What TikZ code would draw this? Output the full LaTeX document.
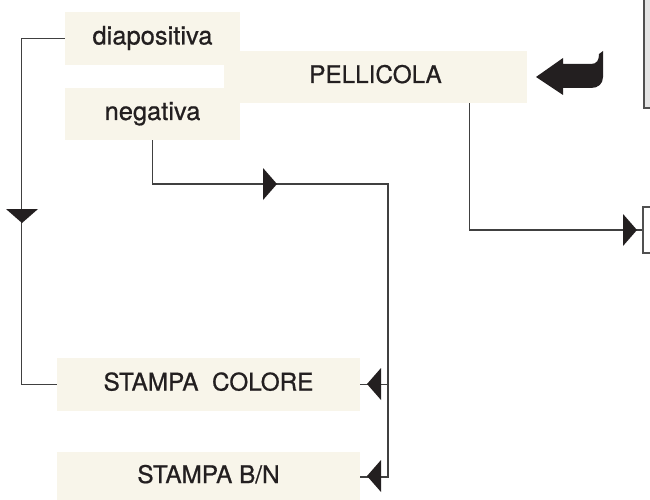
\documentclass[tikz,border=0pt]{standalone}
\usepackage{fontspec}
\setmainfont{TeX Gyre Heros}
\newfontfamily\labelfont[FakeBold=0.7]{TeX Gyre Heros}
\definecolor{beige}{HTML}{F8F5EA}
\definecolor{ink}{HTML}{231F20}
\definecolor{wire}{HTML}{404040}
\definecolor{panel}{HTML}{E4E4E4}
\definecolor{frame}{HTML}{505050}
\begin{document}
\begin{tikzpicture}[x=1pt,y=-1pt,
  box/.style={rectangle, fill=beige, inner sep=0pt, text=ink,
    font=\labelfont\fontsize{24.3}{28}\selectfont, text height=17pt, text depth=5pt},
  wirestyle/.style={draw=wire, line width=1.1pt},
  tri/.pic={\fill[ink] (0,16) -- (14,0) -- (0,-16) -- cycle;}]
\useasboundingbox (0,0) rectangle (650,500);
\clip (0,0) rectangle (650,500);

% label boxes
\node[box, minimum width=175pt, minimum height=53pt] (dia) at (152.5,38.5) {\fontsize{25.5}{28}\selectfont diapositiva};
\node[box, minimum width=175pt, minimum height=52pt] (neg) at (152.5,114) {\fontsize{25.5}{28}\selectfont negativa};
\node[box, minimum width=303pt, minimum height=52pt] (pel) at (375.5,77) {PELLICOLA};
\node[box, minimum width=303pt, minimum height=53pt] (col) at (208.5,384.5) {STAMPA\ \ COLORE};
\node[box, minimum width=303pt, minimum height=50pt] (bn) at (208.5,477) {STAMPA B/N};

% boxes continuing past the right edge
\node[rectangle, fill=panel, draw=frame, line width=2pt, minimum width=30pt, minimum height=120pt, inner sep=0pt] (top) at (659,48) {};
\node[rectangle, fill=white, draw=frame, line width=1.6pt, minimum width=30pt, minimum height=46pt, inner sep=0pt] (rbox) at (658,230) {};

% connectors
\draw[wirestyle] (dia.west) -- ++(-43,0) |- (col.west);
\coordinate (bus) at (388,184);
\draw[wirestyle] (neg.south) |- (bus) |- (bn.east);
\draw[wirestyle] (bus |- col.east) -- (col.east);
\draw[wirestyle] ([xshift=-58pt]pel.south east) |- (rbox.west);

% arrowheads along the connectors
\pic[rotate=-90] at (22,209) {tri};
\pic at (263,184) {tri};
\pic[rotate=180] at (381,384) {tri};
\pic[rotate=180] at (381,476) {tri};
\pic at (623,230) {tri};

% return arrow pointing at PELLICOLA
\fill[ink] (536,77) -- (563,58) -- (563,64) -- (591,64)
  .. controls (597,64) and (599,60) .. (599,54) -- (603,51) -- (603,77)
  .. controls (603,84) and (598,88) .. (591,88) -- (563,88) -- (563,95) -- cycle;
\end{tikzpicture}
\end{document}
